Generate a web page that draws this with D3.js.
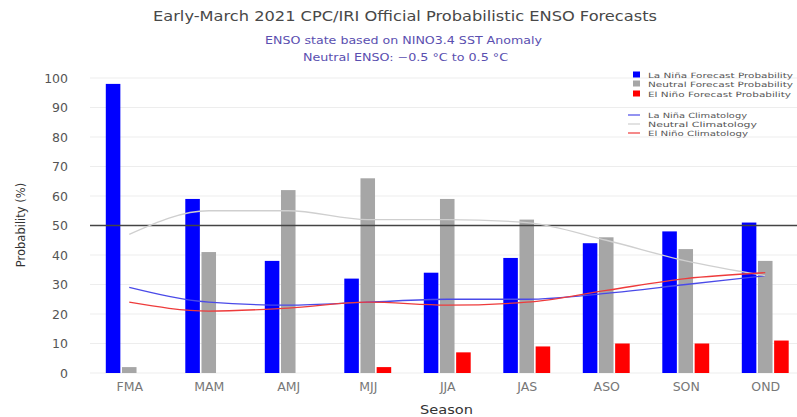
<!DOCTYPE html>
<html><head><meta charset="utf-8">
<script src="https://cdn.jsdelivr.net/npm/d3@7"></script>
<style>body{margin:0;background:#fff}svg{display:block;font-family:"DejaVu Sans",sans-serif}</style>
</head><body><svg id="c" width="797" height="417"></svg>
<script>
const seasons = ["FMA","MAM","AMJ","MJJ","JJA","JAS","ASO","SON","OND"];
const laNina  = [98,59,38,32,34,39,44,48,51];
const neutral = [2,41,62,66,59,52,46,42,38];
const elNino  = [0,0,0,2,7,9,10,10,11];
const laNinaClim  = [29,24,23,24,25,25,27,30,33];
const neutralClim = [47,55,55,52,52,51,45,38,33];
const elNinoClim  = [24,21,22,24,23,24,28,32,34];
const yTicks = [0,10,20,30,40,50,60,70,80,90,100];
const seriesNames = ["La Niña Forecast Probability","Neutral Forecast Probability","El Niño Forecast Probability"];
const climNames = ["La Niña Climatology","Neutral Climatology","El Niño Climatology"];

const svg = d3.select("#c");
const barColors = ["#0000ff","#a6a6a6","#ff0000"];
const lineColors = ["#4a4ae8","#cfcfcf","#ee3b3b"];

const y = d3.scaleLinear().domain([0,100]).range([373,78]);
const x = d3.scaleBand().domain(seasons).range([89.5,805]).paddingInner(0.41).paddingOuter(0.205);
const xs = d3.scaleBand().domain([0,1,2]).range([0,x.bandwidth()]).paddingInner(0.1);

// gridlines
svg.append("g").selectAll("line").data(yTicks).join("line")
  .attr("x1",90).attr("x2",797).attr("y1",d=>y(d)).attr("y2",d=>y(d))
  .attr("stroke","#ededed").attr("stroke-width",1);

// y axis labels
const yAxis = d3.axisLeft(y).tickValues(yTicks).tickSize(0).tickPadding(0);
const gy = svg.append("g").attr("transform","translate(68,0)").call(yAxis);
gy.select(".domain").remove();
gy.selectAll("text").attr("font-size",12.5).attr("fill","#555").attr("font-family","DejaVu Sans");

// x axis labels
const xAxis = d3.axisBottom(d3.scalePoint().domain(seasons).range([x("FMA")+x.bandwidth()/2, x("OND")+x.bandwidth()/2])).tickSize(0).tickPadding(0);
const gx = svg.append("g").attr("transform","translate(0,382)").call(xAxis);
gx.select(".domain").remove();
gx.selectAll("text").attr("font-size",12.5).attr("fill","#777").attr("font-family","DejaVu Sans");

// bars
const allSeries = [laNina, neutral, elNino];
allSeries.forEach((vals,si)=>{
  svg.append("g").selectAll("rect").data(seasons.map((s,i)=>({s,v:vals[i]}))).join("rect")
    .attr("x",d=>x(d.s)+xs(si)).attr("width",xs.bandwidth())
    .attr("y",d=>y(d.v)).attr("height",d=>y(0)-y(d.v))
    .attr("fill",barColors[si]);
});

// 50% line
svg.append("line").attr("x1",90).attr("x2",797).attr("y1",y(50)).attr("y2",y(50))
  .attr("stroke","#444").attr("stroke-width",1.5);

// climatology lines
const line = d3.line().x((d,i)=>x(seasons[i])+x.bandwidth()/2).y(d=>y(d)).curve(d3.curveMonotoneX);
[laNinaClim, neutralClim, elNinoClim].forEach((vals,i)=>{
  svg.append("path").attr("d",line(vals)).attr("fill","none")
    .attr("stroke",lineColors[i]).attr("stroke-width",1.3);
});

// titles
svg.append("text").attr("x",153).attr("y",21)
  .attr("font-size",14.5).attr("fill","#484848").attr("textLength",504).attr("lengthAdjust","spacingAndGlyphs")
  .text("Early-March 2021 CPC/IRI Official Probabilistic ENSO Forecasts");
svg.append("text").attr("x",265).attr("y",44)
  .attr("font-size",10.5).attr("fill","#5a4fb0").attr("textLength",277).attr("lengthAdjust","spacingAndGlyphs")
  .text("ENSO state based on NINO3.4 SST Anomaly");
svg.append("text").attr("x",303).attr("y",61)
  .attr("font-size",10.5).attr("fill","#5a4fb0").attr("textLength",205).attr("lengthAdjust","spacingAndGlyphs")
  .text("Neutral ENSO: \u22120.5 \u00b0C to 0.5 \u00b0C");

// axis titles
svg.append("text").attr("transform","translate(25,225) rotate(-90)").attr("text-anchor","middle")
  .attr("font-size",11.5).attr("fill","#333").text("Probability (%)");
svg.append("text").attr("x",420).attr("y",414)
  .attr("font-size",12.5).attr("fill","#333").attr("textLength",53).attr("lengthAdjust","spacingAndGlyphs").text("Season");

// legend
const lg = svg.append("g");
const ly = [75,84,94];
const lw = [145,145,143];
seriesNames.forEach((n,i)=>{
  lg.append("rect").attr("x",633).attr("y",ly[i]-3.5).attr("width",7).attr("height",6).attr("fill",barColors[i]);
  lg.append("text").attr("x",648).attr("y",ly[i]+2.5).attr("font-size",7.2).attr("fill","#555")
    .attr("textLength",lw[i]).attr("lengthAdjust","spacingAndGlyphs").text(n);
});
const lly = [115,124,133];
const llw = [99,109,100];
climNames.forEach((n,i)=>{
  lg.append("line").attr("x1",628).attr("x2",640).attr("y1",lly[i]).attr("y2",lly[i]).attr("stroke",lineColors[i]).attr("stroke-width",1.2);
  lg.append("text").attr("x",648).attr("y",lly[i]+2.5).attr("font-size",7.2).attr("fill","#555")
    .attr("textLength",llw[i]).attr("lengthAdjust","spacingAndGlyphs").text(n);
});
</script></body></html>
